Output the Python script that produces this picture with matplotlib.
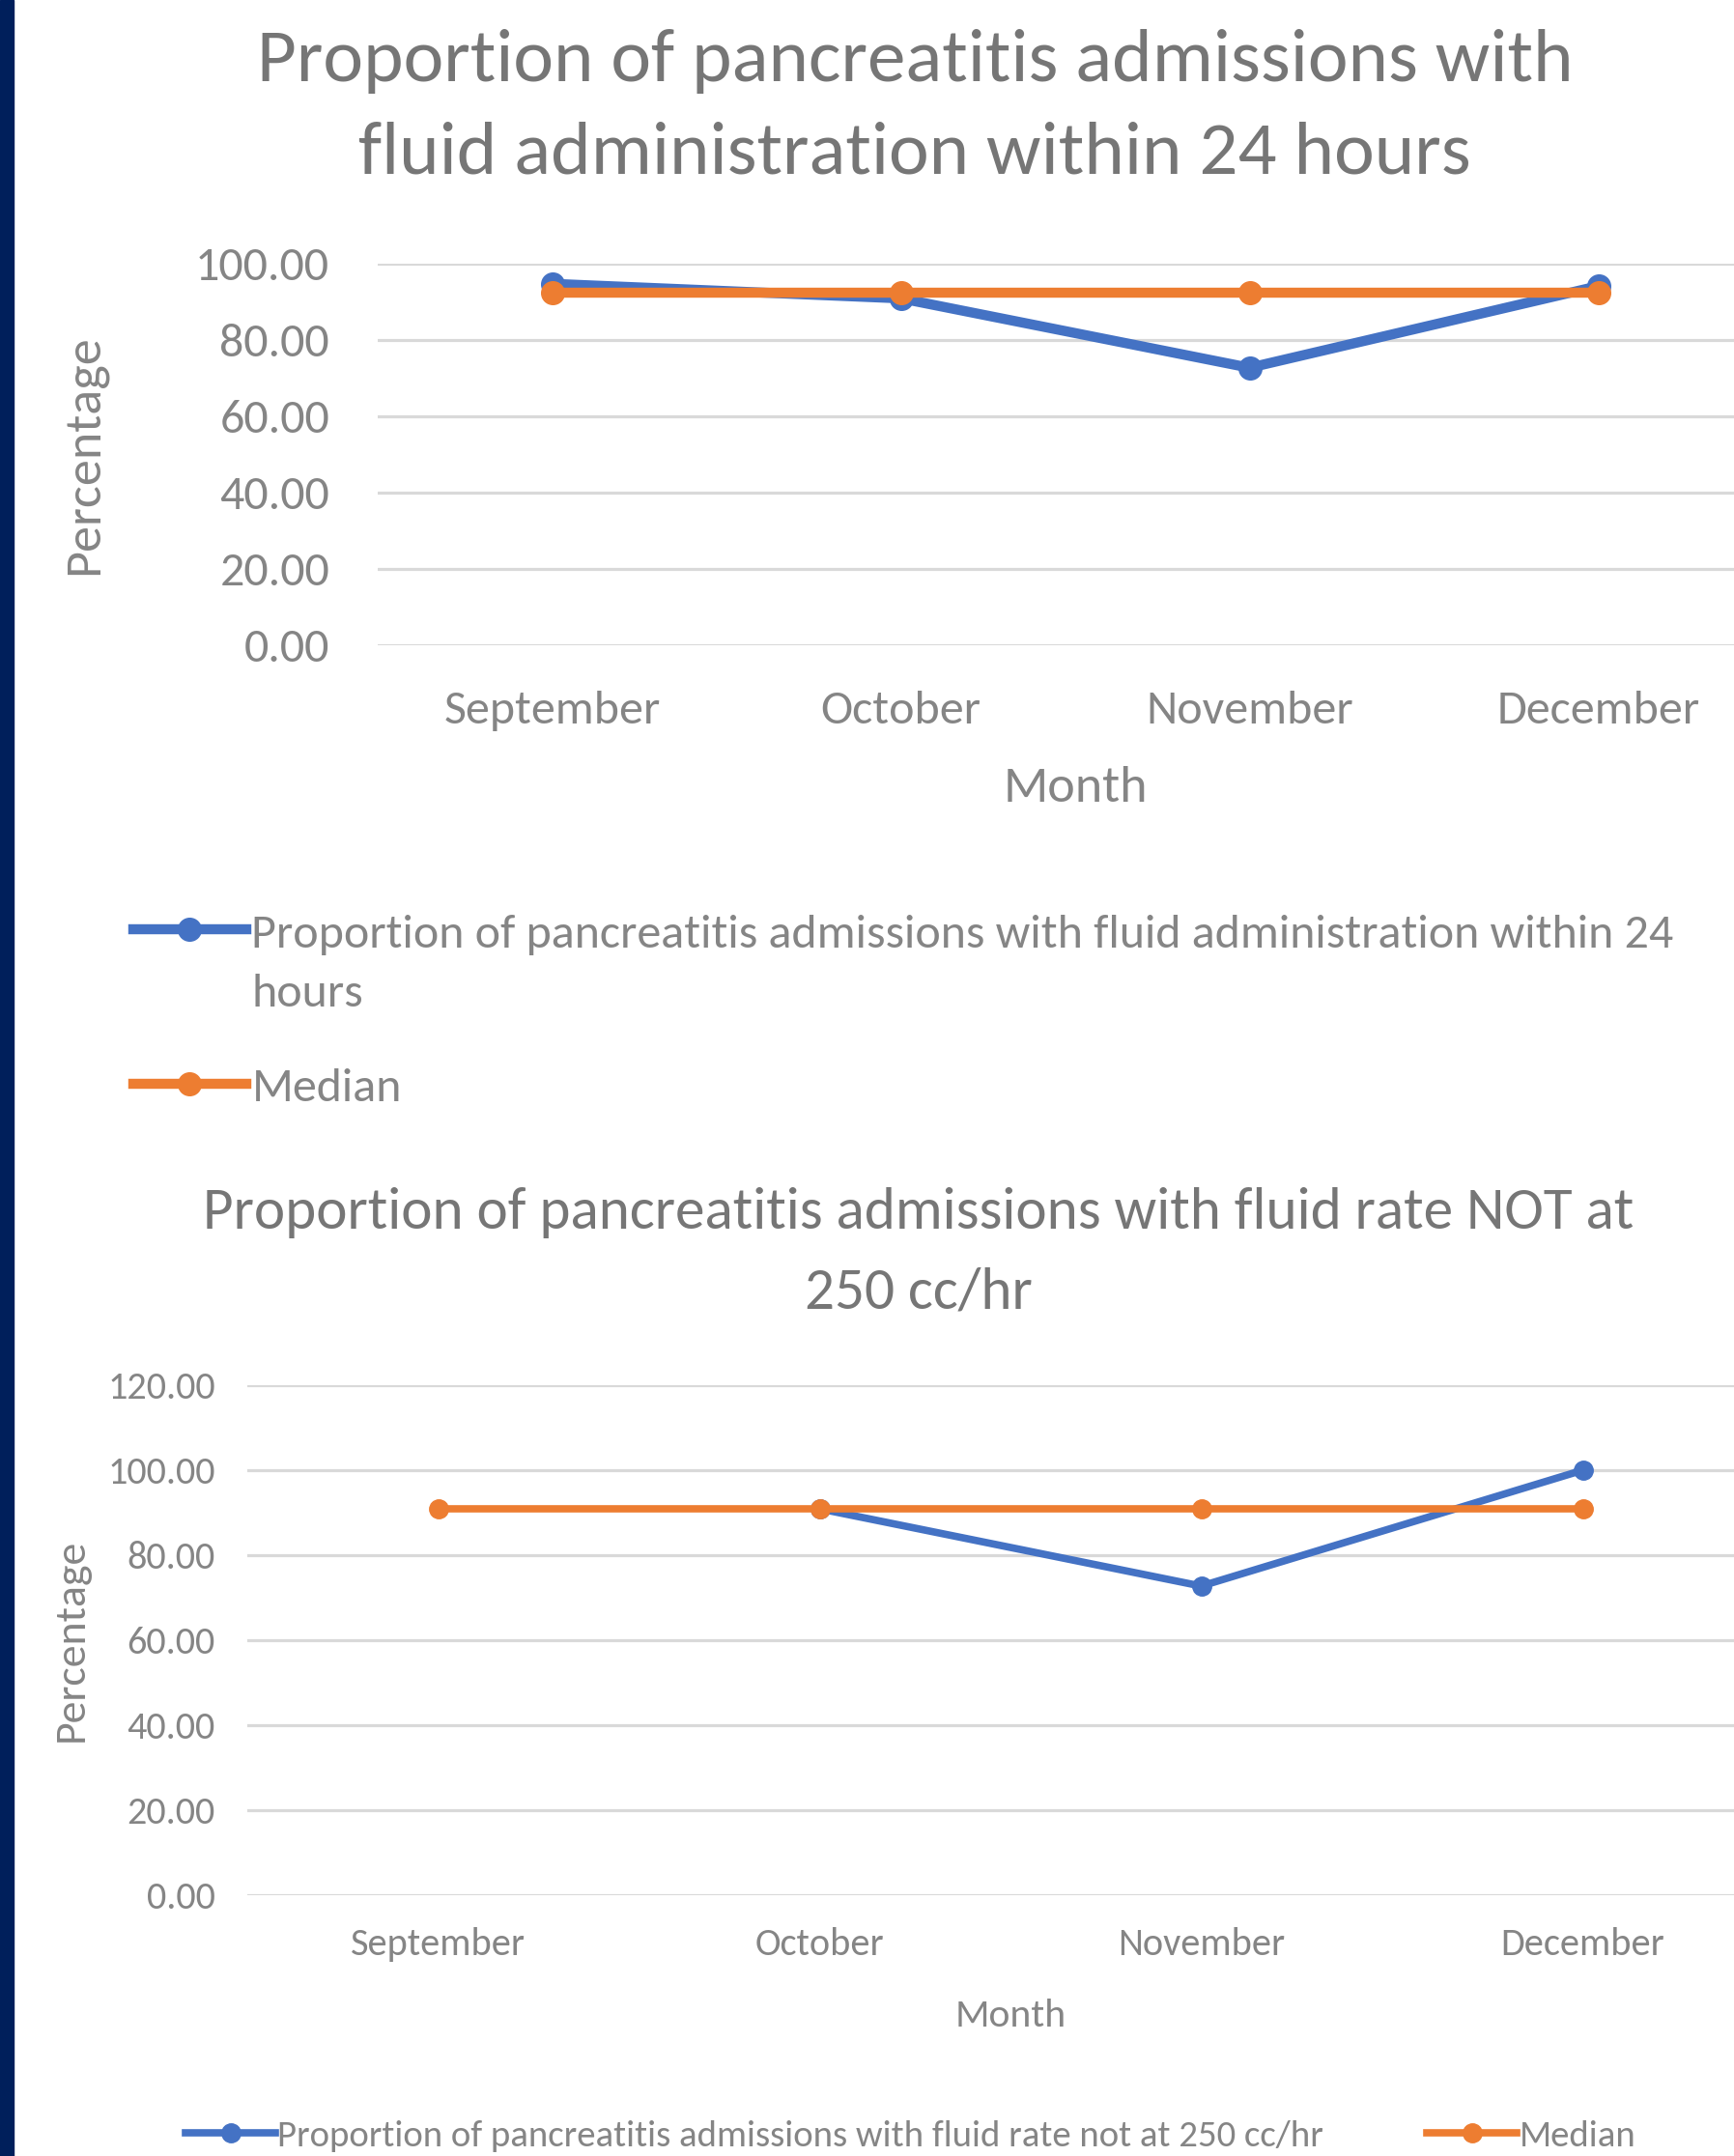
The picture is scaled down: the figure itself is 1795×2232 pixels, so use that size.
import matplotlib
matplotlib.use('Agg')
import matplotlib.pyplot as plt
from matplotlib import font_manager
from matplotlib.legend_handler import HandlerLine2D
from matplotlib.patches import Rectangle
from matplotlib.ticker import FormatStrFormatter
import numpy as np

months = ['September', 'October', 'November', 'December']

# chart 1: fluid administration within 24 hours (%)
fluid_24h = [94.74, 90.91, 72.73, 94.12]
fluid_24h_median = [92.51, 92.51, 92.51, 92.51]

# chart 2: fluid rate NOT at 250 cc/hr (%), nothing for September
rate_not_250 = [np.nan, 90.91, 72.73, 100.00]
rate_not_250_median = [90.91, 90.91, 90.91, 90.91]

blue = '#4472C4'
orange = '#ED7D31'
grid_col = '#d9d9d9'
text_col = '#858585'
title_col = '#767676'

installed = {f.name for f in font_manager.fontManager.ttflist}
font = 'Carlito' if 'Carlito' in installed else 'Lato'
plt.rcParams['font.family'] = [font, 'DejaVu Sans']

W, H = 1795, 2232  # output size in pixels
fig = plt.figure(figsize=(W / 100, H / 100), dpi=100)

# navy strip on the left edge
fig.add_artist(Rectangle((0, 0), 14 / W, 1, transform=fig.transFigure,
                         color='#001f5b', zorder=0))


class FirstLineHandler(HandlerLine2D):
    # keeps the legend key on the first line of a wrapped label
    def __init__(self, shift, **kw):
        super().__init__(**kw)
        self.shift = shift

    def create_artists(self, *args, **kw):
        arts = super().create_artists(*args, **kw)
        for a in arts:
            a.set_ydata(np.asarray(a.get_ydata()) + self.shift)
        return arts


def draw_chart(ax, values, median, ymax, lw, ms, fs, ypad, xpad):
    x = np.arange(len(months))
    l1, = ax.plot(x, values, color=blue, lw=lw, marker='o', ms=ms, clip_on=False)
    l2, = ax.plot(x, median, color=orange, lw=lw, marker='o', ms=ms, clip_on=False)
    ax.set_xlim(-0.5, len(months) - 0.5)
    ax.set_ylim(0, ymax)
    ax.set_yticks(np.arange(0, ymax + 1, 20))
    ax.yaxis.set_major_formatter(FormatStrFormatter('%.2f'))
    ax.set_xticks(x, months)
    ax.grid(axis='y', color=grid_col, lw=2.3)
    ax.set_axisbelow(True)
    for s in ax.spines.values():
        s.set_visible(False)
    ax.tick_params(length=0, colors=text_col, labelsize=fs)
    ax.tick_params(axis='y', pad=ypad)
    ax.tick_params(axis='x', pad=xpad)
    return l1, l2


# ---- top chart ----
ax1 = fig.add_axes([391 / W, 1 - 668 / H, 1444 / W, 395 / H])
b1, o1 = draw_chart(ax1, fluid_24h, fluid_24h_median, 100, 7.5, 17, 36, 36, 34)
ax1.set_xlabel('Month', fontsize=39, color=text_col, va='center')
ax1.xaxis.set_label_coords(0.5, -0.375)
ax1.set_ylabel('Percentage', fontsize=39, color=text_col, va='center')
ax1.yaxis.set_label_coords(-0.2098, 0.5)

fig.text(947 / W, 1 - 111 / H,
         'Proportion of pancreatitis admissions with\nfluid administration within 24 hours',
         ha='center', va='center', fontsize=57, color=title_col, linespacing=1.52)

leg1 = fig.legend([b1, o1],
                  ['Proportion of pancreatitis admissions with fluid administration within 24\nhours',
                   'Median'],
                  loc='upper left', bbox_to_anchor=(138 / W, 1 - 947 / H),
                  frameon=False, fontsize=36, labelcolor=text_col,
                  handlelength=2.33, handletextpad=0.12, labelspacing=1.1,
                  borderpad=0, borderaxespad=0,
                  handler_map={b1: FirstLineHandler(26)})
for t in leg1.get_texts():
    t.set_linespacing(1.55)

# ---- bottom chart ----
ax2 = fig.add_axes([256 / W, 1 - 1962 / H, 1580 / W, 528 / H])
b2, o2 = draw_chart(ax2, rate_not_250, rate_not_250_median, 120, 5.5, 14, 29, 24, 24)
ax2.set_xlabel('Month', fontsize=30, color=text_col, va='center')
ax2.xaxis.set_label_coords(0.5, -0.237)
ax2.set_ylabel('Percentage', fontsize=33, color=text_col, va='center')
ax2.yaxis.set_label_coords(-0.1152, 0.5)

fig.text(951 / W, 1 - 1297 / H,
         'Proportion of pancreatitis admissions with fluid rate NOT at\n250 cc/hr',
         ha='center', va='center', fontsize=44, color=title_col, linespacing=1.68)

fig.legend([b2, o2],
           ['Proportion of pancreatitis admissions with fluid rate not at 250 cc/hr',
            'Median'],
           loc='center left', bbox_to_anchor=(192 / W, 1 - 2211 / H), ncol=2,
           frameon=False, fontsize=28, labelcolor=text_col,
           handlelength=2.4, handletextpad=0.05, columnspacing=2.75,
           borderpad=0, borderaxespad=0)

fig.savefig('out.png', dpi=100)
